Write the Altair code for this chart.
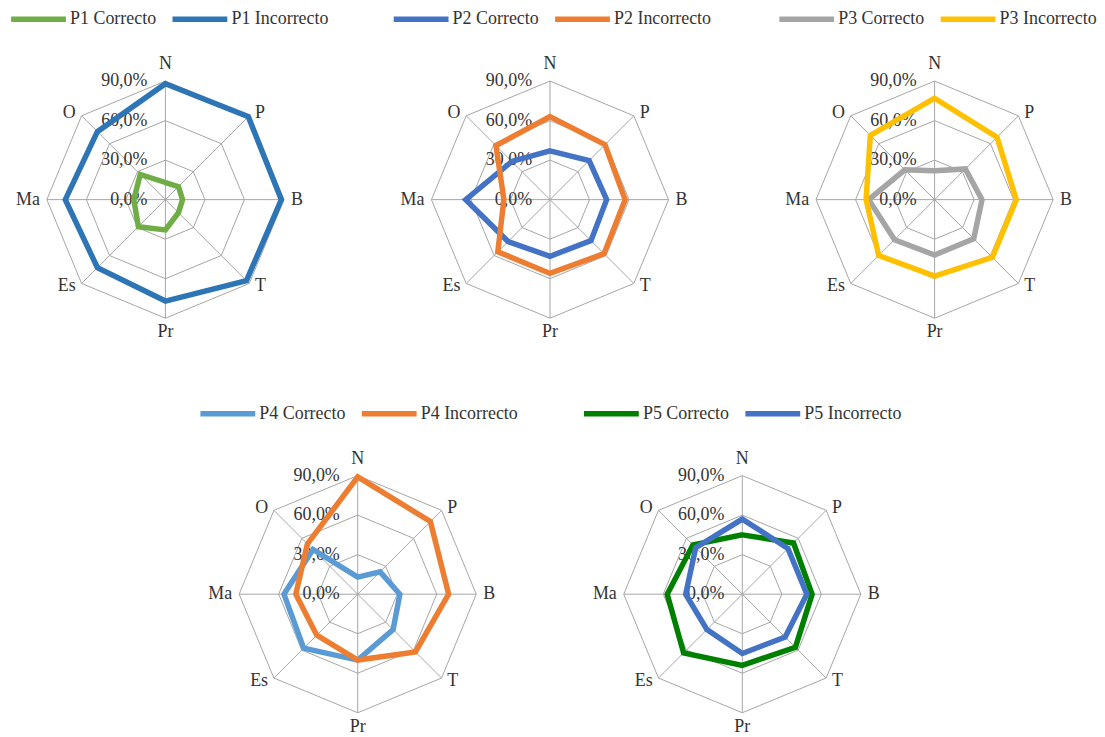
import altair as alt
import pandas as pd

# ---------------- data ----------------
categories = ["N", "P", "B", "T", "Pr", "Es", "Ma", "O"]
ring_values = [0, 30, 60, 90]
tick_labels = ["0,0%", "30,0%", "60,0%", "90,0%"]

p1_names = ["P1 Correcto", "P1 Incorrecto"]
p1_correcto = [13, 14, 13, 14, 23, 29, 24, 27]
p1_incorrecto = [88, 89, 88, 87, 77, 73, 76, 73]

p2_names = ["P2 Correcto", "P2 Incorrecto"]
p2_correcto = [37, 42, 43, 44, 43, 45, 64, 41]
p2_incorrecto = [63, 59, 57, 58, 56, 56, 35, 58]

p3_names = ["P3 Correcto", "P3 Incorrecto"]
p3_correcto = [22, 33, 36, 42, 42, 43, 50, 32]
p3_incorrecto = [77, 67, 62, 62, 58, 60, 52, 69]

p4_names = ["P4 Correcto", "P4 Incorrecto"]
p4_correcto = [13, 24, 32, 38, 50, 58, 56, 48]
p4_incorrecto = [89, 78, 69, 62, 50, 44, 47, 54]

p5_names = ["P5 Correcto", "P5 Incorrecto"]
p5_correcto = [45, 55, 53, 57, 54, 63, 57, 53]
p5_incorrecto = [57, 49, 49, 46, 45, 38, 43, 50]

# ---------------- style ----------------
p1_colors = ["#70AD47", "#2E75B6"]
p2_colors = ["#4472C4", "#ED7D31"]
p3_colors = ["#A5A5A5", "#FFC000"]
p4_colors = ["#5B9BD5", "#ED7D31"]
p5_colors = ["#008000", "#4472C4"]

FONT = "Liberation Serif"
TEXT_COLOR = "#333333"
GRID_COLOR = "#A6A6A6"
FS = 18

PX = 119 / 90.0          # pixels per percentage point
PANEL_W = 316
PANEL_H = 335
CX = 158                 # centre inside panel (px)
CY = 191
LABEL_R = 93             # radius (in value units) for category labels

# legend line symbol: 55 px long horizontal stroke drawn from the entry start
SYM_SCALE = 55 / 8.0
SYM_SIZE = (2 * SYM_SCALE) ** 2
SYM_PATH = "M-1,0L7,0"

SIN = "sin(datum.idx * PI / 4)"
COS = "cos(datum.idx * PI / 4)"


def panel(names, vals_c, vals_i, colors, left_extra=0, leg_dx=0):
    n = len(categories)
    x_scale = alt.Scale(domain=[-(CX + left_extra) / PX, (PANEL_W - CX) / PX], nice=False, zero=False)
    y_scale = alt.Scale(domain=[-(PANEL_H - CY) / PX, CY / PX], nice=False, zero=False)

    series_df = pd.DataFrame({
        "series": [names[0]] * n + [names[1]] * n,
        "cat": categories * 2,
        "idx": list(range(n)) * 2,
        "value": list(vals_c) + list(vals_i),
    })
    grid_df = pd.DataFrame({
        "ring": [r for r in ring_values[1:] for _ in range(n)],
        "idx": [i for _ in ring_values[1:] for i in range(n)],
    })
    spoke_df = pd.DataFrame({"idx": list(range(n)), "r": [ring_values[-1]] * n})
    label_df = pd.DataFrame({"cat": categories, "idx": list(range(n))})
    tick_df = pd.DataFrame({"v": ring_values, "label": tick_labels})

    X = lambda f: alt.X(f, type="quantitative", scale=x_scale, axis=None)
    Y = lambda f: alt.Y(f, type="quantitative", scale=y_scale, axis=None)

    rings = alt.Chart(grid_df).mark_line(
        interpolate="linear-closed", stroke=GRID_COLOR, strokeWidth=1
    ).transform_calculate(
        x=f"datum.ring * {SIN}", y=f"datum.ring * {COS}"
    ).encode(x=X("x"), y=Y("y"), detail="ring:N", order="idx:Q")

    spokes = alt.Chart(spoke_df).mark_rule(stroke=GRID_COLOR, strokeWidth=1).transform_calculate(
        x0="0", y0="0", x1=f"datum.r * {SIN}", y1=f"datum.r * {COS}"
    ).encode(x=X("x0"), y=Y("y0"), x2="x1:Q", y2="y1:Q")

    ticks = alt.Chart(tick_df).mark_text(
        align="right", baseline="middle", dx=-18, font=FONT, fontSize=FS, color=TEXT_COLOR
    ).transform_calculate(x0="0").encode(x=X("x0"), y=Y("v"), text="label:N")

    def cat_layer(idxs, **kw):
        return alt.Chart(label_df).mark_text(
            font=FONT, fontSize=FS, color=TEXT_COLOR, **kw
        ).transform_filter(
            alt.FieldOneOfPredicate(field="idx", oneOf=idxs)
        ).transform_calculate(
            x=f"{LABEL_R} * {SIN}", y=f"{LABEL_R} * {COS}"
        ).encode(x=X("x"), y=Y("y"), text="cat:N")

    lab_top = cat_layer([0], align="center", baseline="bottom", dy=-4)
    lab_bot = cat_layer([4], align="center", baseline="top", dy=1)
    lab_right = cat_layer([1, 2, 3], align="left", baseline="middle", dx=3)
    lab_left = cat_layer([5, 6, 7], align="right", baseline="middle", dx=-3)

    lines = alt.Chart(series_df).mark_line(
        interpolate="linear-closed", strokeWidth=5.5
    ).transform_calculate(
        x=f"datum.value * {SIN}", y=f"datum.value * {COS}"
    ).encode(
        x=X("x"), y=Y("y"), order="idx:Q",
        color=alt.Color(
            "series:N",
            scale=alt.Scale(domain=names, range=colors),
            legend=alt.Legend(
                title=None, orient="none", legendX=left_extra + leg_dx, legendY=0,
                padding=0, direction="horizontal", symbolType=SYM_PATH, symbolSize=SYM_SIZE,
                symbolStrokeWidth=5.5, labelFont=FONT, labelFontSize=FS,
                labelColor=TEXT_COLOR, labelOffset=55 - 2 * SYM_SCALE + 1, columnPadding=5,
                labelLimit=0,
            ),
        ),
    )

    return alt.layer(rings, spokes, ticks, lab_top, lab_bot, lab_right, lab_left, lines).properties(
        width=PANEL_W + left_extra, height=PANEL_H
    )


p1 = panel(p1_names, p1_correcto, p1_incorrecto, p1_colors, leg_dx=0)
p2 = panel(p2_names, p2_correcto, p2_incorrecto, p2_colors, leg_dx=-2)
p3 = panel(p3_names, p3_correcto, p3_incorrecto, p3_colors, leg_dx=-1)
p4 = panel(p4_names, p4_correcto, p4_incorrecto, p4_colors, left_extra=193, leg_dx=-3)
p5 = panel(p5_names, p5_correcto, p5_incorrecto, p5_colors, leg_dx=-4)

row1 = alt.hconcat(p1, p2, p3, spacing=70, bounds="flush").resolve_scale(color="independent")
row2 = alt.hconcat(p4, p5, spacing=70, bounds="flush").resolve_scale(color="independent")

chart = alt.vconcat(row1, row2, spacing=61).resolve_scale(
    color="independent"
).properties(padding=0).configure_view(stroke=None)

chart.save("out.html", embed_options={"renderer": "svg", "actions": False})
